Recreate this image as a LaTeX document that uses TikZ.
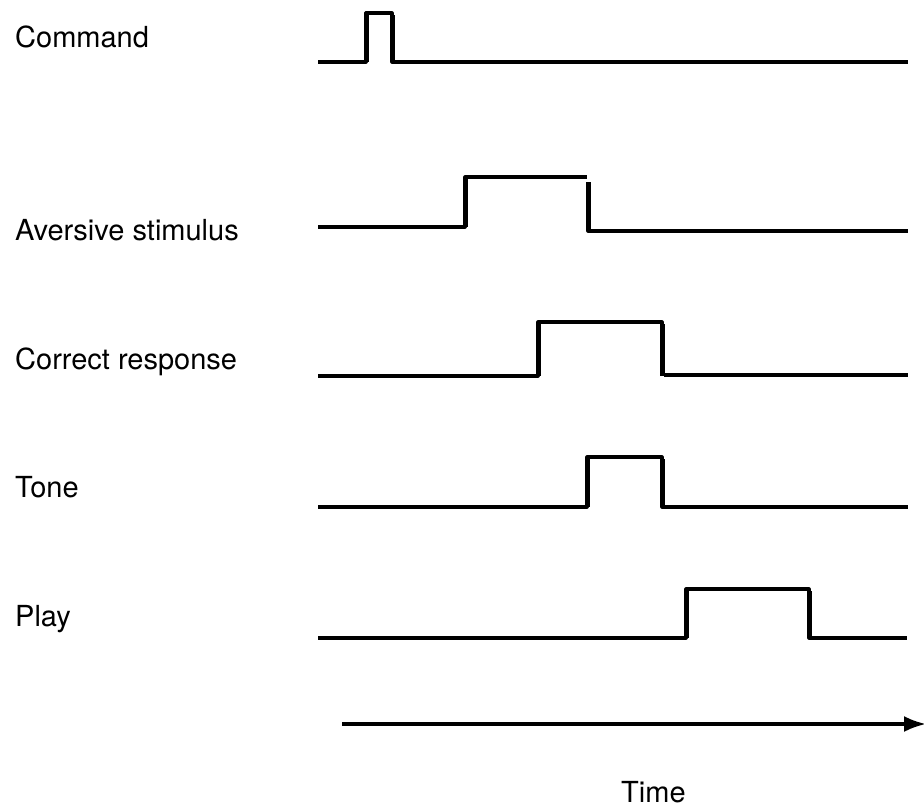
\documentclass[tikz,border=0pt]{standalone}
\usepackage{fontspec}
\setmainfont{TeX Gyre Heros}
\usetikzlibrary{arrows.meta}
\begin{document}
\begin{tikzpicture}[x=1pt,y=-1pt,
  lbl/.style={anchor=base west,inner sep=0pt,font=\fontsize{29}{34}\selectfont},
  wave/.style={line width=3.2pt,line join=round,line cap=butt},
  edge/.style={line width=5pt,line cap=butt}]
\useasboundingbox (0,0) rectangle (924,809);
% labels
\node[lbl] (lcmd) at (15,47) {Command};
\node[lbl] (lav) at (15,240) {Aversive stimulus};
\node[lbl] (lcr) at (15,369) {Correct response};
\node[lbl] (lto) at (15,497) {Tone};
\node[lbl] (lpl) at (15,626) {Play};
\node[lbl] (ltime) at (621,802) {Time};
% Command
\draw[wave] (318,62) -- (366,62) -- (366,13) -- (392,13) -- (392,62) -- (908,62);
\draw[edge] (366,62) -- (366,15) (392,15) -- (392,62);
% Aversive stimulus
\draw[wave] (318,227) -- (465,227) -- (465,177) -- (587,177);
\draw[wave] (588,182) -- (588,231) -- (908,231);
\draw[edge] (465,227) -- (465,179) (588,182) -- (588,231);
% Correct response
\draw[wave] (318,376) -- (538,376) -- (538,322) -- (662,322) -- (662,376);
\draw[wave] (664,375) -- (908,375);
\draw[edge] (538,376) -- (538,324) (662,324) -- (662,375);
% Tone
\draw[wave] (318,507) -- (587,507) -- (587,457) -- (662,457) -- (662,507) -- (908,507);
\draw[edge] (587,507) -- (587,459) (662,459) -- (662,507);
% Play
\draw[wave] (318,638) -- (686,638) -- (686,589) -- (809,589) -- (809,638) -- (907,638);
\draw[edge] (686,638) -- (686,591) (809,591) -- (809,638);
% Time axis
\coordinate (t0) at (342,724);
\coordinate (t1) at (926,724);
\draw[line width=3.2pt,-{Latex[length=22pt,width=16pt]}] (t0) -- (t1);
\end{tikzpicture}
\end{document}
